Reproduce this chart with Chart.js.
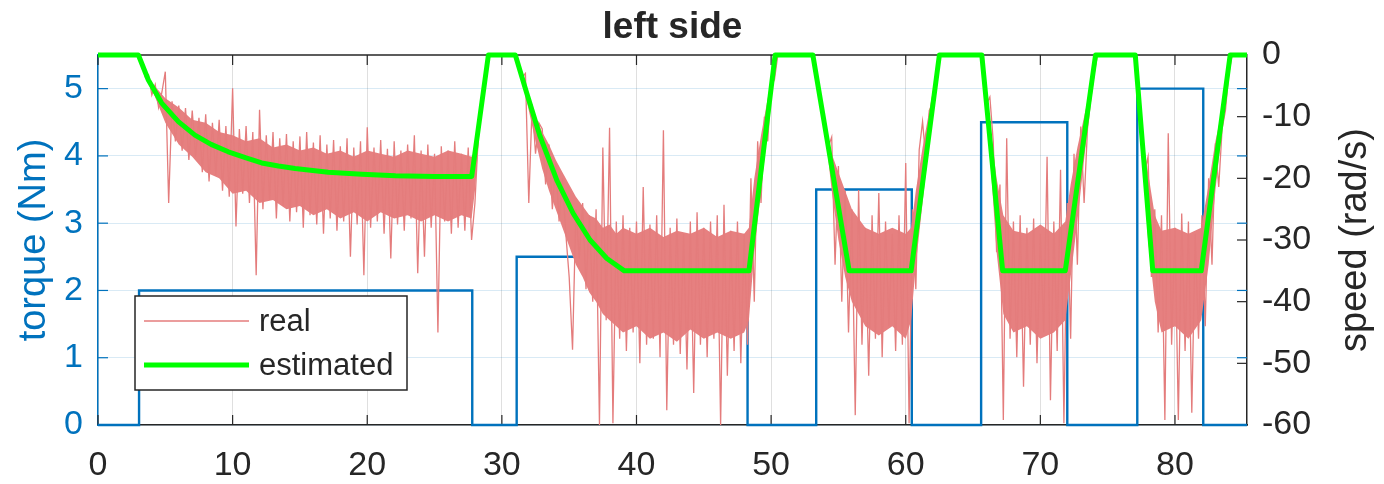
<!DOCTYPE html>
<html><head><meta charset="utf-8">
<script src="https://cdn.jsdelivr.net/npm/chart.js@4.4.1/dist/chart.umd.min.js"></script>
<style>html,body{margin:0;padding:0;background:#fff;}canvas{display:block;}</style>
</head><body>
<canvas id="c" width="1384" height="484"></canvas>
<script>
// ---------- text ----------
const chartTitle = 'left side';
const torqueLabel = 'torque (Nm)';
const speedLabel = 'speed (rad/s)';

// ---------- tick labels ----------
const timeTicks = [0, 10, 20, 30, 40, 50, 60, 70, 80];
const torqueTicks = [0, 1, 2, 3, 4, 5];
const speedTicks = [-60, -50, -40, -30, -20, -10, 0];

// ---------- torque command (left axis, step changes) ----------
const torqueTime  = [0, 3.05, 27.8, 31.1, 48.25, 53.35, 60.45, 65.6, 72.0, 77.2, 82.1, 85.35];
const torqueValue = [0, 2,    0,    2.5,  0,     3.5,   0,     4.5,  0,    5,    0,    0];

// ---------- estimated speed (right axis) ----------
const estTime  = [0, 3.0, 3.74, 4.73, 5.97, 7.2, 8.4, 9.68, 11.0, 12.16, 13.4, 14.64, 17.1, 19.6, 22.1, 25.0, 27.76, 29.0,
                  31.0, 31.85, 32.84, 34.08, 35.3, 36.55, 37.8, 39.1, 48.35, 50.3, 53.1, 55.8, 60.4, 62.5,
                  65.65, 67.2, 71.85, 74.1, 77.05, 78.35, 81.95, 84.1, 85.35];
const estSpeed = [0, 0, -4.05, -7.8, -10.8, -13.0, -14.5, -15.7, -16.7, -17.5, -18.0, -18.4, -19.0, -19.35, -19.6, -19.7, -19.7, 0,
                  0, -6.2, -13.2, -20.3, -25.7, -30.0, -33.0, -35, -35, 0, 0, -35, -35, 0,
                  0, -35, -35, 0, 0, -35, -35, 0, 0];

// ---------- real (measured) speed: dense core of the noise band ----------
const coreTime = [
  3.0, 4.0, 5.0, 6.0, 7.0, 8.0, 9.0, 10, 11, 12, 13, 14, 15, 16, 17, 18, 19, 20, 21, 22, 23, 24, 25, 26, 27, 27.75, 28.0, 28.5, 29.0,
  31.0, 31.5, 32.0, 32.5, 33.0, 33.5, 34.0, 34.5, 35.0, 35.5, 36.0, 36.5, 37.0, 37.5, 38.0, 38.5, 39.0,
  40, 41, 42, 43, 44, 45, 46, 47, 48, 48.35, 48.75, 49.25, 49.75, 50.3,
  53.1, 54.0, 54.5, 55.0, 55.5, 56.0, 57, 58, 59, 60, 60.4, 60.75, 61.25, 61.75, 62.5,
  65.65, 66.25, 66.75, 67.25, 68, 69, 70, 71, 71.85, 72.25, 72.75, 73.25, 73.75, 74.1,
  77.05, 77.5, 78.0, 78.5, 79, 80, 81, 81.95, 82.5, 83.0, 83.5, 84.1];
const coreUpper = [
  0, -4.5, -7.0, -8.5, -10.5, -11, -12.5, -13, -14, -13.5, -15, -14.5, -15.5, -15, -16, -15.5, -16.5, -15.5, -16, -16.5, -15.5, -16, -16.5, -15.5, -16, -16.5, -15.5, -7.9, 0,
  0, -3.5, -7, -10, -12.5, -14.5, -17, -19, -21, -23, -24.5, -26, -26.5, -28, -27.5, -29, -28,
  -29, -28, -29.5, -28.5, -29, -28, -29.5, -28.5, -29, -28, -20, -13, -7, 0,
  0, -11.5, -16, -19, -22, -25, -28, -29, -28, -29, -28, -22, -15, -9, 0,
  0, -11, -20, -26, -28.5, -29, -27.5, -29, -27, -21, -15, -10, -5, 0,
  0, -12, -19, -26, -28.5, -28, -29, -28, -21, -14, -9, 0];
const coreLower = [
  0, -5.5, -11, -14.5, -16.5, -19, -20, -22.5, -22, -24, -23.5, -25, -24.5, -26, -25, -26.5, -25.5, -27, -25.5, -26.5, -26, -27, -26, -27, -26, -26.5, -22, -8, 0,
  0, -4, -9, -14, -18.5, -22, -25, -28, -31, -34, -36, -38.5, -40, -42, -43, -44, -45,
  -44, -46, -45, -46.5, -44.5, -46, -45, -46, -45, -43, -32, -22, -12, 0,
  0, -12, -22, -30, -36, -40, -44, -45.5, -44, -46, -43, -34, -24, -14, 0,
  0, -16, -32, -42, -45, -44, -46, -45, -43, -36, -27, -17, -7, 0,
  0, -13, -30, -40, -45, -44, -46, -43, -34, -22, -12, 0];

// ---------- real (measured) speed: samples every 0.25 s in five runs ----------
const realStep = 0.25;
const realRun1Start = 3.0;
const realRun1 = [
  0, -1.0, -3.5, -3.2, -6.5, -4.8, -8.5, -6.0,
  -2.7, -24, -7.5, -14, -8.2, -15.5, -8.6, -17,
  -9.0, -16.5, -10.2, -19, -9.6, -20.5, -11, -19.5,
  -10.5, -22, -11.5, -23, -5.4, -27.8, -12, -22.5,
  -11.5, -24, -12.5, -35.7, -8.9, -25, -13, -23.5,
  -12.5, -26.5, -13.5, -24.5, -12.8, -27, -14, -25.5,
  -13.2, -28, -12.5, -26, -14.2, -27.5, -13, -29,
  -14.5, -26.5, -13.8, -28.5, -14.8, -27, -13.5, -32.7,
  -15, -27.5, -14, -35.7, -11.7, -28, -15, -27,
  -13.8, -29, -15.2, -33, -14, -27.5, -15.5, -28.5,
  -14.5, -26.5, -13, -35.4, -15.5, -32.7, -14.5, -28,
  -16, -45, -14.8, -27, -15.5, -29, -14, -28,
  -16, -28.5, -15, -30, -24, -13, -8, -4,
  0];
const realRun2Start = 31.0;
const realRun2 = [
  0, -1.8, -3.6, -3.0, -24, -8, -16, -11,
  -12, -21, -14.5, -25, -17.5, -27, -20, -29,
  -36, -47.8, -25, -33, -24, -38, -26, -40,
  -25, -60, -15, -43, -11.8, -59.7, -27, -46,
  -26, -48, -28, -45, -27, -50, -21.4, -47,
  -27.5, -46, -26, -49, -12.2, -57.6, -28, -47,
  -26.5, -48.5, -29, -51, -27, -54.8, -25.5, -47,
  -28, -49, -27, -46, -26, -60, -24.3, -52,
  -28.5, -48, -27, -50, -29, -47, -20, -40,
  -14, -24, -10, -14, -5, -4, 0, 0];
const realRun3Start = 53.0;
const realRun3 = [
  0, -1.9, -5.2, -8.4, -11.7, -14.9, -13.3, -34,
  -18, -40, -22, -45, -25, -58.4, -21.9, -47,
  -28, -52, -26, -46, -22.4, -49, -27, -44,
  -29, -48, -26, -47, -17.5, -59.7, -25, -38,
  -15.4, -10.8, -17, -9, -8, -3.5, 0, 0];
const realRun4Start = 65.5;
const realRun4 = [
  0, 0, -7.9, -6.8, -14, -32, -21, -59.2,
  -13.5, -46, -27, -49, -26, -53.8, -28, -47,
  -26.5, -50, -29, -45, -16.5, -56, -27, -48,
  -18.6, -59.7, -24, -46, -16, -34, -11.6, -24,
  -12, -7, -3, 0, 0, 0, 0, 0];
const realRun5Start = 77.0;
const realRun5 = [
  0, -5.4, -12, -19, -16.5, -36, -25, -45,
  -26, -59.2, -12.7, -47, -28, -59.2, -25.7, -48,
  -27, -58, -29, -46, -26, -44, -20, -34,
  -14.3, -21.4, -12, -9, -3, 0, 0, 0,
  0, 0];

// ---------- build datasets ----------
function run(start, values) { return values.map((v, i) => ({ x: start + i * realStep, y: v })); }
const realPoints = [].concat(
  run(realRun1Start, realRun1), run(realRun2Start, realRun2), run(realRun3Start, realRun3),
  run(realRun4Start, realRun4), run(realRun5Start, realRun5));
const coreHiPoints = coreTime.map((t, i) => ({ x: t, y: coreUpper[i] }));
const coreLoPoints = coreTime.map((t, i) => ({ x: t, y: coreLower[i] }));
const estPoints = estTime.map((t, i) => ({ x: t, y: estSpeed[i] }));
const torquePoints = torqueTime.map((t, i) => ({ x: t, y: torqueValue[i] }));

const FONT = "'Liberation Sans', Arial, Helvetica, sans-serif";
const BLUE = '#0072BD', DARK = '#262626';
const RED = '#E47C7C', RED_CORE = '#E68080', GREEN = '#00FF00';

function line(ctx, x1, y1, x2, y2) { ctx.beginPath(); ctx.moveTo(x1, y1); ctx.lineTo(x2, y2); ctx.stroke(); }

const matlabFrame = {
  id: 'matlabFrame',
  beforeDatasetsDraw(chart) {
    const { ctx, chartArea: a, scales } = chart;
    const T = 10;
    ctx.save();
    ctx.lineWidth = 1.2;
    ctx.strokeStyle = DARK;
    timeTicks.forEach(v => {
      const px = scales.x.getPixelForValue(v);
      line(ctx, px, a.bottom, px, a.bottom - T);
      line(ctx, px, a.top, px, a.top + T);
    });
    speedTicks.forEach(v => {
      const py = scales.ySpeed.getPixelForValue(v);
      line(ctx, a.right, py, a.right - T, py);
    });
    ctx.strokeStyle = BLUE;
    torqueTicks.forEach(v => {
      const py = scales.yTorque.getPixelForValue(v);
      line(ctx, a.left, py, a.left + T, py);
      line(ctx, a.right, py, a.right - T, py);
    });
    ctx.strokeStyle = DARK; ctx.lineWidth = 1.5;
    line(ctx, a.left, a.top, a.right, a.top);
    ctx.restore();
  },
  afterDatasetsDraw(chart) {
    const { ctx, chartArea: a } = chart;
    const bx = a.left + 37, by = a.top + 241, bw = 272, bh = 94;
    ctx.save();
    ctx.fillStyle = '#ffffff';
    ctx.fillRect(bx, by, bw, bh);
    ctx.strokeStyle = DARK; ctx.lineWidth = 1.5;
    ctx.strokeRect(bx, by, bw, bh);
    const items = [chart.data.datasets[1], chart.data.datasets[0]];
    ctx.font = `31px ${FONT}`;
    ctx.textAlign = 'left'; ctx.textBaseline = 'alphabetic';
    items.forEach((ds, i) => {
      const ly = by + 25 + i * 44;
      ctx.strokeStyle = ds.borderColor; ctx.lineWidth = ds.borderWidth;
      line(ctx, bx + 9, ly, bx + 114, ly);
      ctx.fillStyle = DARK;
      ctx.fillText(ds.label, bx + 124, ly + 10);
    });
    ctx.restore();
  },
  afterDraw(chart) {
    const { ctx, chartArea: a } = chart;
    const cy = (a.top + a.bottom) / 2;
    ctx.save();
    ctx.fillStyle = DARK;
    ctx.font = `bold 37px ${FONT}`;
    ctx.textAlign = 'center'; ctx.textBaseline = 'alphabetic';
    ctx.fillText(chartTitle, (a.left + a.right) / 2, a.top - 17);
    ctx.font = `38px ${FONT}`;
    ctx.save();
    ctx.translate(a.left - 53, cy); ctx.rotate(-Math.PI / 2);
    ctx.fillStyle = BLUE; ctx.fillText(torqueLabel, 0, 0);
    ctx.restore();
    ctx.save();
    ctx.translate(a.right + 119, cy); ctx.rotate(-Math.PI / 2);
    ctx.fillStyle = DARK; ctx.fillText(speedLabel, 0, 0);
    ctx.restore();
    ctx.restore();
  }
};

const tickFont = { family: FONT, size: 34 };

new Chart(document.getElementById('c'), {
  type: 'line',
  data: {
    datasets: [
      { label: 'estimated', data: estPoints, yAxisID: 'ySpeed', borderColor: GREEN, borderWidth: 5,
        pointRadius: 0, tension: 0, order: 0, clip: 6, borderJoinStyle: 'round' },
      { label: 'real', data: realPoints, yAxisID: 'ySpeed', borderColor: RED, borderWidth: 1.3,
        pointRadius: 0, tension: 0, order: 1 },
      { label: 'real core upper', data: coreHiPoints, yAxisID: 'ySpeed', borderColor: 'rgba(0,0,0,0)', borderWidth: 0,
        pointRadius: 0, tension: 0, order: 2, fill: '+1', backgroundColor: RED_CORE },
      { label: 'real core lower', data: coreLoPoints, yAxisID: 'ySpeed', borderColor: 'rgba(0,0,0,0)', borderWidth: 0,
        pointRadius: 0, tension: 0, order: 3, fill: false },
      { label: 'torque', data: torquePoints, yAxisID: 'yTorque', borderColor: BLUE, borderWidth: 2.4,
        pointRadius: 0, stepped: true, order: 4, clip: 4 }
    ]
  },
  options: {
    responsive: false, animation: false, devicePixelRatio: 1, events: [],
    layout: { padding: { top: 55, left: 0, right: 0, bottom: 0 } },
    plugins: { legend: { display: false }, title: { display: false }, tooltip: { enabled: false } },
    scales: {
      x: {
        type: 'linear', min: 0, max: 85.35,
        afterBuildTicks: s => { s.ticks = timeTicks.map(v => ({ value: v })); },
        afterFit: s => { s.height = 59; },
        grid: { color: 'rgba(38,38,38,0.15)', lineWidth: 1, drawTicks: false },
        border: { color: DARK, width: 1.5 },
        ticks: { color: DARK, font: tickFont, padding: 20, maxRotation: 0, autoSkip: false }
      },
      yTorque: {
        type: 'linear', position: 'left', min: 0, max: 5.5,
        afterBuildTicks: s => { s.ticks = torqueTicks.map(v => ({ value: v })); },
        afterFit: s => { s.width = 98; },
        grid: { color: 'rgba(0,114,189,0.15)', lineWidth: 1, drawTicks: false },
        border: { color: BLUE, width: 1.5 },
        ticks: { color: BLUE, font: tickFont, padding: 15 }
      },
      ySpeed: {
        type: 'linear', position: 'right', min: -60, max: 0,
        afterBuildTicks: s => { s.ticks = speedTicks.map(v => ({ value: v })); },
        afterFit: s => { s.width = 137; },
        grid: { display: false, drawTicks: false },
        border: { color: DARK, width: 1.5 },
        ticks: { color: DARK, font: tickFont, padding: 15 }
      }
    }
  },
  plugins: [matlabFrame]
});
</script>
</body></html>
